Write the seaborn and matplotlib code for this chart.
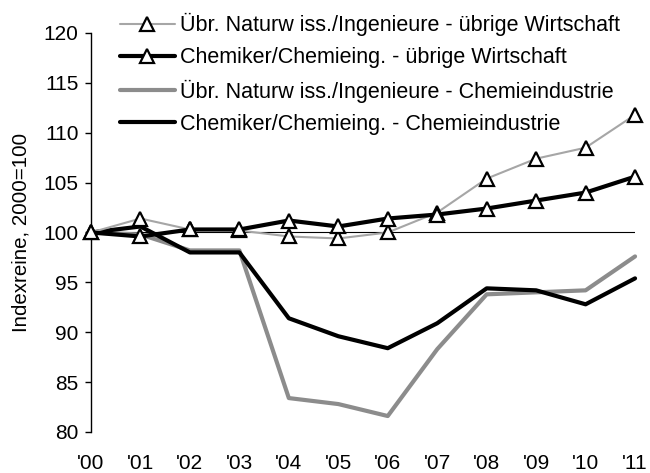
import matplotlib
matplotlib.use("Agg")
import matplotlib.pyplot as plt
import seaborn as sns
import pandas as pd

years = ["'00", "'01", "'02", "'03", "'04", "'05", "'06", "'07", "'08", "'09", "'10", "'11"]
naturwiss_uebrige = [100, 101.4, 100.3, 100.2, 99.6, 99.4, 100.0, 102.0, 105.4, 107.4, 108.5, 111.8]
chemiker_uebrige = [100, 99.6, 100.3, 100.3, 101.2, 100.6, 101.4, 101.8, 102.4, 103.2, 104.0, 105.6]
naturwiss_chemie = [100, 99.8, 98.2, 98.2, 83.4, 82.8, 81.6, 88.3, 93.8, 94.0, 94.2, 97.6]
chemiker_chemie = [100, 100.6, 98.0, 98.0, 91.4, 89.6, 88.4, 90.9, 94.4, 94.2, 92.8, 95.4]
baseline = [100] * len(years)

labels = [
    "Übr. Naturw iss./Ingenieure - übrige Wirtschaft",
    "Chemiker/Chemieing. - übrige Wirtschaft",
    "Übr. Naturw iss./Ingenieure - Chemieindustrie",
    "Chemiker/Chemieing. - Chemieindustrie",
]

sns.set_theme(style="white")
plt.rcParams['font.family'] = ['Liberation Sans', 'DejaVu Sans']

fig = plt.figure(figsize=(6.5, 4.73), dpi=100)
ax = fig.add_axes([0.14, 0.0867, 0.837, 0.8436])

x = list(range(len(years)))
df_base = pd.DataFrame({"x": x, "y": baseline})
sns.lineplot(data=df_base, x="x", y="y", ax=ax, color="black", linewidth=0.8, legend=False, zorder=1)

styles = [
    (naturwiss_uebrige, "#a6a6a6", 1.5, "^", 5),
    (chemiker_uebrige, "black", 3.0, "^", 6),
    (naturwiss_chemie, "#8c8c8c", 3.0, None, 3),
    (chemiker_chemie, "black", 3.0, None, 4),
]
for (vals, col, lw, mk, z), lab in zip(styles, labels):
    df = pd.DataFrame({"x": x, "y": vals})
    kw = {}
    if mk:
        kw = dict(marker=mk, markersize=10.5, markerfacecolor="white",
                  markeredgecolor="black", markeredgewidth=1.6)
    sns.lineplot(data=df, x="x", y="y", ax=ax, color=col, linewidth=lw,
                 label=lab, zorder=z, clip_on=False, **kw)

ax.set_xlim(0, 11)
ax.set_ylim(80, 120)
ax.set_yticks(range(80, 121, 5))
ax.set_xticks(x)
ax.set_xticklabels(years)
ax.set_xlabel("")
ax.set_ylabel("Indexreine, 2000=100", fontsize=14.8, labelpad=9)
ax.tick_params(axis="y", which="both", left=True, length=4, width=1, color="black",
               labelsize=15, pad=5, direction="out")
ax.tick_params(axis="x", bottom=False, labelsize=15, pad=10)
for s in ["top", "right", "bottom"]:
    ax.spines[s].set_visible(False)
ax.spines["left"].set_color("black")
ax.spines["left"].set_linewidth(1)

leg = ax.legend(loc="upper left", bbox_to_anchor=(0.053, 1.05), frameon=False,
                fontsize=15.5, handlelength=2.55, handletextpad=0.23, labelspacing=0.52,
                borderaxespad=0, borderpad=0)
for t in leg.get_texts():
    t.set_color("black")
for t in ax.get_yticklabels() + ax.get_xticklabels():
    t.set_color("black")
ax.yaxis.label.set_color("black")

fig.savefig("out.png", dpi=100)
